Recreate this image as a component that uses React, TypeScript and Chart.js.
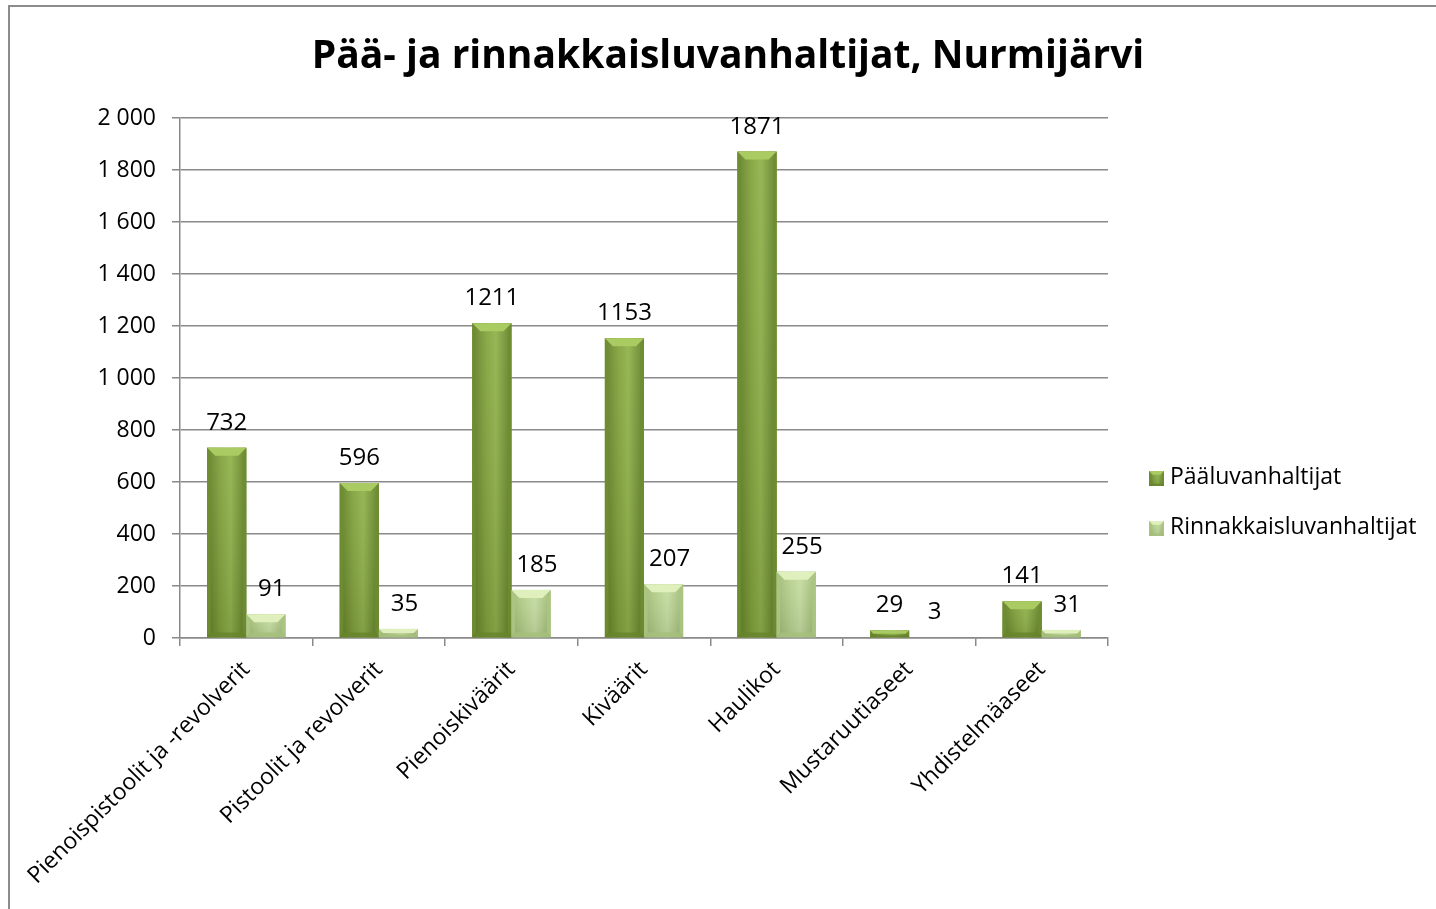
import React, { useEffect, useRef } from "react";
import { Chart, registerables } from "chart.js";

Chart.register(...registerables);

const TITLE = "Pää- ja rinnakkaisluvanhaltijat, Nurmijärvi";
const categories = [
  "Pienoispistoolit ja -revolverit",
  "Pistoolit ja revolverit",
  "Pienoiskiväärit",
  "Kiväärit",
  "Haulikot",
  "Mustaruutiaseet",
  "Yhdistelmäaseet",
];
const seriesNames = ["Pääluvanhaltijat", "Rinnakkaisluvanhaltijat"];
const paaluvat = [732, 596, 1211, 1153, 1871, 29, 141];
const rinnakkaisluvat = [91, 35, 185, 207, 255, 3, 31];
const yTicks = [0, 200, 400, 600, 800, 1000, 1200, 1400, 1600, 1800, 2000];

const FONT = "'Open Sans', 'Noto Sans', sans-serif";

type Palette = { edge: string; mid: string; light: string; top: string; side: string; bottom: string };
const palettes: Palette[] = [
  { edge: "#627f28", mid: "#82a33d", light: "#90b34c", top: "#a9cb62", side: "#6f8e31", bottom: "#68852c" },
  { edge: "#a0bb74", mid: "#b8d28f", light: "#c6dda2", top: "#e0f0bd", side: "#abc683", bottom: "#a6c07c" },
];

function drawBevelBar(ctx: CanvasRenderingContext2D, left: number, right: number, top: number, bottom: number, p: Palette) {
  const w = right - left;
  const h = bottom - top;
  if (w <= 0 || h <= 0) return;
  const b = Math.min(8, w / 4, h / 2);
  const g = ctx.createLinearGradient(left, 0, right, 0);
  g.addColorStop(0, p.edge);
  g.addColorStop(0.35, p.mid);
  g.addColorStop(0.6, p.light);
  g.addColorStop(1, p.edge);
  ctx.fillStyle = g;
  ctx.fillRect(left, top, w, h);
  // vertical shading: slightly darker towards the bottom
  const vg = ctx.createLinearGradient(0, top, 0, bottom);
  vg.addColorStop(0, "rgba(255,255,255,0.06)");
  vg.addColorStop(1, "rgba(0,0,0,0.10)");
  ctx.fillStyle = vg;
  ctx.fillRect(left, top, w, h);
  // left bevel
  ctx.beginPath();
  ctx.moveTo(left, top);
  ctx.lineTo(left + b * 0.45, top + b);
  ctx.lineTo(left + b * 0.45, bottom - b * 0.6);
  ctx.lineTo(left, bottom);
  ctx.closePath();
  ctx.fillStyle = p.side;
  ctx.globalAlpha = 0.85;
  ctx.fill();
  // right bevel
  ctx.beginPath();
  ctx.moveTo(right, top);
  ctx.lineTo(right - b * 0.45, top + b);
  ctx.lineTo(right - b * 0.45, bottom - b * 0.6);
  ctx.lineTo(right, bottom);
  ctx.closePath();
  ctx.fill();
  // bottom bevel
  ctx.beginPath();
  ctx.moveTo(left, bottom);
  ctx.lineTo(right, bottom);
  ctx.lineTo(right - b * 0.45, bottom - b * 0.6);
  ctx.lineTo(left + b * 0.45, bottom - b * 0.6);
  ctx.closePath();
  ctx.fillStyle = p.bottom;
  ctx.fill();
  ctx.globalAlpha = 1;
  // top bevel
  ctx.beginPath();
  ctx.moveTo(left, top);
  ctx.lineTo(right, top);
  ctx.lineTo(right - b, top + b);
  ctx.lineTo(left + b, top + b);
  ctx.closePath();
  ctx.fillStyle = p.top;
  ctx.fill();
}

const bevelPlugin = {
  id: "bevelBars",
  afterDatasetsDraw(chart: any) {
    const ctx = chart.ctx as CanvasRenderingContext2D;
    ctx.save();
    chart.data.datasets.forEach((_ds: any, di: number) => {
      const meta = chart.getDatasetMeta(di);
      meta.data.forEach((el: any) => {
        const { x, y, base, width } = el.getProps(["x", "y", "base", "width"], true);
        drawBevelBar(ctx, x - width / 2, x + width / 2, Math.min(y, base), Math.max(y, base), palettes[di]);
      });
    });
    ctx.restore();
  },
};

const labelPlugin = {
  id: "valueLabels",
  afterDatasetsDraw(chart: any) {
    const ctx = chart.ctx as CanvasRenderingContext2D;
    ctx.save();
    ctx.font = `24px ${FONT}`;
    ctx.fillStyle = "#000";
    ctx.textAlign = "center";
    ctx.textBaseline = "alphabetic";
    chart.data.datasets.forEach((ds: any, di: number) => {
      const meta = chart.getDatasetMeta(di);
      meta.data.forEach((el: any, i: number) => {
        const { x, y } = el.getProps(["x", "y"], true);
        ctx.fillText(String(ds.data[i]), x + (di === 1 ? 6 : 0), y - 18);
      });
    });
    ctx.restore();
  },
};

const titlePlugin = {
  id: "customTitle",
  afterDraw(chart: any) {
    const ctx = chart.ctx as CanvasRenderingContext2D;
    ctx.save();
    ctx.font = `bold 39px ${FONT}`;
    ctx.fillStyle = "#000";
    ctx.textAlign = "center";
    ctx.textBaseline = "alphabetic";
    ctx.fillText(TITLE, 728, 68);
    ctx.restore();
  },
};

const legendPlugin = {
  id: "customLegend",
  afterDraw(chart: any) {
    const ctx = chart.ctx as CanvasRenderingContext2D;
    ctx.save();
    ctx.font = `23px ${FONT}`;
    ctx.textAlign = "left";
    ctx.textBaseline = "alphabetic";
    seriesNames.forEach((name, i) => {
      const cy = 478 + i * 50;
      drawBevelBar(ctx, 1149, 1164, cy - 7, cy + 8, palettes[i]);
      ctx.fillStyle = "#000";
      ctx.fillText(name, 1170, cy + 6);
    });
    ctx.restore();
  },
};

function formatThousands(v: number): string {
  return String(v).replace(/\B(?=(\d{3})+(?!\d))/g, " ");
}

export default function App() {
  const ref = useRef<HTMLCanvasElement | null>(null);
  useEffect(() => {
    if (!ref.current) return;
    const chart = new Chart(ref.current, {
      type: "bar",
      data: {
        labels: categories,
        datasets: [
          { label: seriesNames[0], data: paaluvat, backgroundColor: palettes[0].mid },
          { label: seriesNames[1], data: rinnakkaisluvat, backgroundColor: palettes[1].mid },
        ],
      },
      options: {
        responsive: false,
        animation: false,
        layout: { padding: { left: 90, top: 118, right: 328, bottom: 0 } },
        datasets: { bar: { categoryPercentage: 0.59, barPercentage: 1 } },
        plugins: {
          legend: { display: false },
          title: { display: false },
          tooltip: { enabled: false },
        },
        scales: {
          x: {
            offset: true,
            grid: {
              offset: true,
              drawOnChartArea: false,
              drawTicks: true,
              tickLength: 8,
              color: "#8a8a8a",
              lineWidth: 1.5,
            },
            border: { color: "#8a8a8a", width: 1.5 },
            ticks: {
              minRotation: 45,
              maxRotation: 45,
              autoSkip: false,
              color: "#000",
              font: { family: FONT, size: 23 },
              padding: 10,
            },
            afterFit(scale: any) {
              scale.height = 271;
            },
          },
          y: {
            min: 0,
            max: 2000,
            afterBuildTicks(scale: any) {
              scale.ticks = yTicks.map((v) => ({ value: v }));
            },
            grid: {
              color: "#8a8a8a",
              lineWidth: 1.5,
              drawTicks: true,
              tickLength: 8,
            },
            border: { color: "#8a8a8a", width: 1.5 },
            ticks: {
              color: "#000",
              font: { family: FONT, size: 23 },
              padding: 16,
              callback: (v: any) => formatThousands(Number(v)),
            },
            afterFit(scale: any) {
              scale.width = 90;
            },
          },
        },
      },
      plugins: [bevelPlugin, labelPlugin, titlePlugin, legendPlugin],
    } as any);
    return () => chart.destroy();
  }, []);

  return (
    <div
      style={{
        position: "fixed",
        left: 0,
        top: 0,
        width: 1436,
        height: 909,
        overflow: "hidden",
        background: "#fff",
      }}
    >
      <canvas ref={ref} width={1436} height={909} style={{ position: "absolute", left: 0, top: 0 }} />
      <div
        style={{
          position: "absolute",
          left: 8,
          top: 5,
          width: 1500,
          height: 1000,
          border: "2px solid #8c8c8c",
          pointerEvents: "none",
        }}
      />
    </div>
  );
}
